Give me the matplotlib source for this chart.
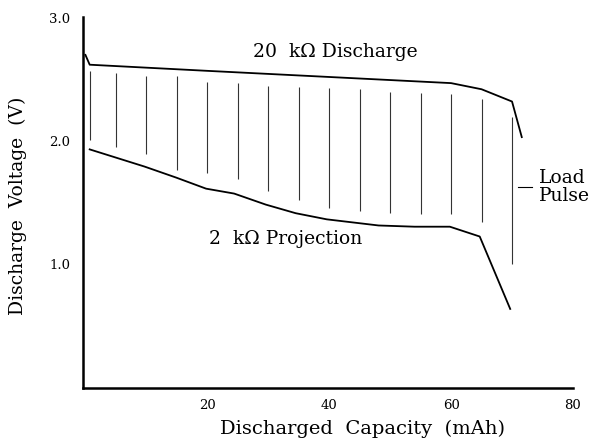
import matplotlib
matplotlib.use("Agg")
import matplotlib.pyplot as plt

# 20 kOhm discharge curve (mAh, V)
disch_x = [0.0, 0.7, 20, 40, 60, 65, 70, 71.6]
disch_v = [2.70, 2.62, 2.57, 2.52, 2.47, 2.42, 2.32, 2.03]

# 2 kOhm projection curve
proj_x = [0.7, 9.7, 14.9, 19.8, 24.4, 29.6, 34.5, 39.6, 48.1, 54.0, 59.8, 64.7, 69.7]
proj_v = [1.93, 1.79, 1.70, 1.61, 1.57, 1.48, 1.41, 1.36, 1.31, 1.30, 1.30, 1.22, 0.63]

# load pulses: position, voltage before and during the pulse
pulse_x = [0.7, 5, 10, 15, 20, 25, 30, 35, 40, 45, 50, 55, 60, 65, 70]
pulse_top = [2.57, 2.55, 2.53, 2.53, 2.48, 2.47, 2.45, 2.44, 2.43, 2.42, 2.40, 2.39, 2.38, 2.34, 2.19]
pulse_bot = [2.01, 1.95, 1.89, 1.76, 1.74, 1.69, 1.59, 1.52, 1.45, 1.43, 1.41, 1.40, 1.40, 1.34, 1.00]

x_ticks = [20, 40, 60, 80]
y_ticks = [1.0, 2.0, 3.0]

plt.rcParams['font.family'] = ['DejaVu Serif']

fig = plt.figure(figsize=(5.94, 4.41), dpi=100)
ax = fig.add_axes([0.1397, 0.120, 0.8249, 0.8418])

ax.plot(disch_x, disch_v, color='black', lw=1.3)
ax.plot(proj_x, proj_v, color='black', lw=1.3)
ax.vlines(pulse_x, pulse_bot, pulse_top, color='#333333', lw=0.8)

ax.text(41, 2.72, "20  k\u03a9 Discharge", ha='center', va='center', fontsize=13.5)
ax.text(32.8, 1.20, "2  k\u03a9 Projection", ha='center', va='center', fontsize=13.5)
ax.plot([71.0, 73.2], [1.62, 1.62], color='black', lw=0.8)
ax.text(74.5, 1.62, "Load\nPulse", ha='left', va='center', fontsize=13.5, linespacing=1.0)

ax.set_xlim(-0.4, 79.6)
ax.set_ylim(-0.015, 3.01)
ax.set_xticks(x_ticks)
ax.set_yticks(y_ticks)
ax.set_xticklabels([str(t) for t in x_ticks], fontsize=9.5)
ax.set_yticklabels(["%.1f" % t for t in y_ticks], fontsize=9.5)
ax.tick_params(length=0, pad=9)
ax.tick_params(axis='x', pad=8)

for side in ['top', 'right']:
    ax.spines[side].set_visible(False)
for side in ['left', 'bottom']:
    ax.spines[side].set_linewidth(1.8)

ax.set_xlabel("Discharged  Capacity  (mAh)", fontsize=14)
ax.xaxis.set_label_coords(0.57, -0.086)
ax.set_ylabel("Discharge  Voltage  (V)", fontsize=13.5)
ax.yaxis.set_label_coords(-0.115, 0.49)

fig.savefig("out.png", dpi=100)
